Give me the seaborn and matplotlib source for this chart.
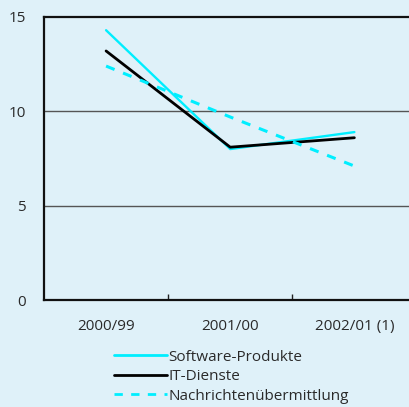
import matplotlib
matplotlib.use("Agg")
import matplotlib.pyplot as plt
from matplotlib.ticker import FixedLocator
from matplotlib.lines import Line2D
import seaborn as sns
import pandas as pd

periods = ["2000/99", "2001/00", "2002/01 (1)"]
series_names = ["Software-Produkte", "IT-Dienste", "Nachrichtenübermittlung"]
software = [14.3, 8.0, 8.9]
it_dienste = [13.2, 8.1, 8.6]
nachrichten = [12.4, 9.7, 7.1]

rows = []
for name, vals in zip(series_names, [software, it_dienste, nachrichten]):
    for i, (p, v) in enumerate(zip(periods, vals)):
        rows.append({"pos": i, "Periode": p, "Serie": name, "Wert": v})
df = pd.DataFrame(rows)

bg = "#dff1f9"
cyan = "#00eeff"
text_col = "#2a2a2a"
sns.set_theme(style="white")
plt.rcParams["font.family"] = ["Open Sans", "DejaVu Sans"]

fig = plt.figure(figsize=(4.09, 4.07), dpi=100, facecolor=bg)
ax = fig.add_axes([44 / 409, 107 / 407, 1 - 44 / 409, 283 / 407])
ax.set_facecolor(bg)

palette = {"Software-Produkte": cyan, "IT-Dienste": "#000000",
           "Nachrichtenübermittlung": cyan}
dashes = {"Software-Produkte": "", "IT-Dienste": "",
          "Nachrichtenübermittlung": (3, 3)}
sns.lineplot(data=df, x="pos", y="Wert", hue="Serie", style="Serie",
             palette=palette, dashes=dashes, hue_order=series_names,
             style_order=series_names, ax=ax, legend=False, linewidth=2)
for line, lw in zip(ax.lines, [1.7, 2.0, 2.2]):
    line.set_linewidth(lw)

ax.set_xlim(-0.5, 2.44)
ax.set_ylim(0, 15)
ax.set_yticks([0, 5, 10, 15])
ax.set_xticks(range(len(periods)))
ax.set_xticklabels(periods)
ax.xaxis.set_minor_locator(FixedLocator([0.5, 1.5]))
ax.tick_params(axis="x", which="major", length=0, pad=14, labelsize=11, labelcolor=text_col)
ax.tick_params(axis="x", which="minor", direction="in", length=4, width=1, color="#222222", bottom=True)
ax.tick_params(axis="y", length=0, pad=13, labelsize=11, labelcolor=text_col)
ax.set_xlabel("")
ax.set_ylabel("")

for y in [5, 10]:
    ax.axhline(y, color="#555555", linewidth=1, zorder=0)

for side in ["left", "bottom", "top"]:
    ax.spines[side].set_visible(True)
    ax.spines[side].set_color("#111111")
    ax.spines[side].set_linewidth(1.6)
ax.spines["right"].set_visible(False)

handles = [
    Line2D([], [], color=cyan, linewidth=2),
    Line2D([], [], color="#000000", linewidth=2),
    Line2D([], [], color=cyan, linewidth=2, dashes=(3, 3)),
]
fig.legend(handles, series_names, loc="upper left",
           bbox_to_anchor=(106 / 409, 1 - 342 / 407), frameon=False,
           fontsize=11, handlelength=3.5, handletextpad=0.1,
           labelspacing=0.3, borderpad=0, labelcolor=text_col)

fig.savefig("out.png", dpi=100, facecolor=bg)
